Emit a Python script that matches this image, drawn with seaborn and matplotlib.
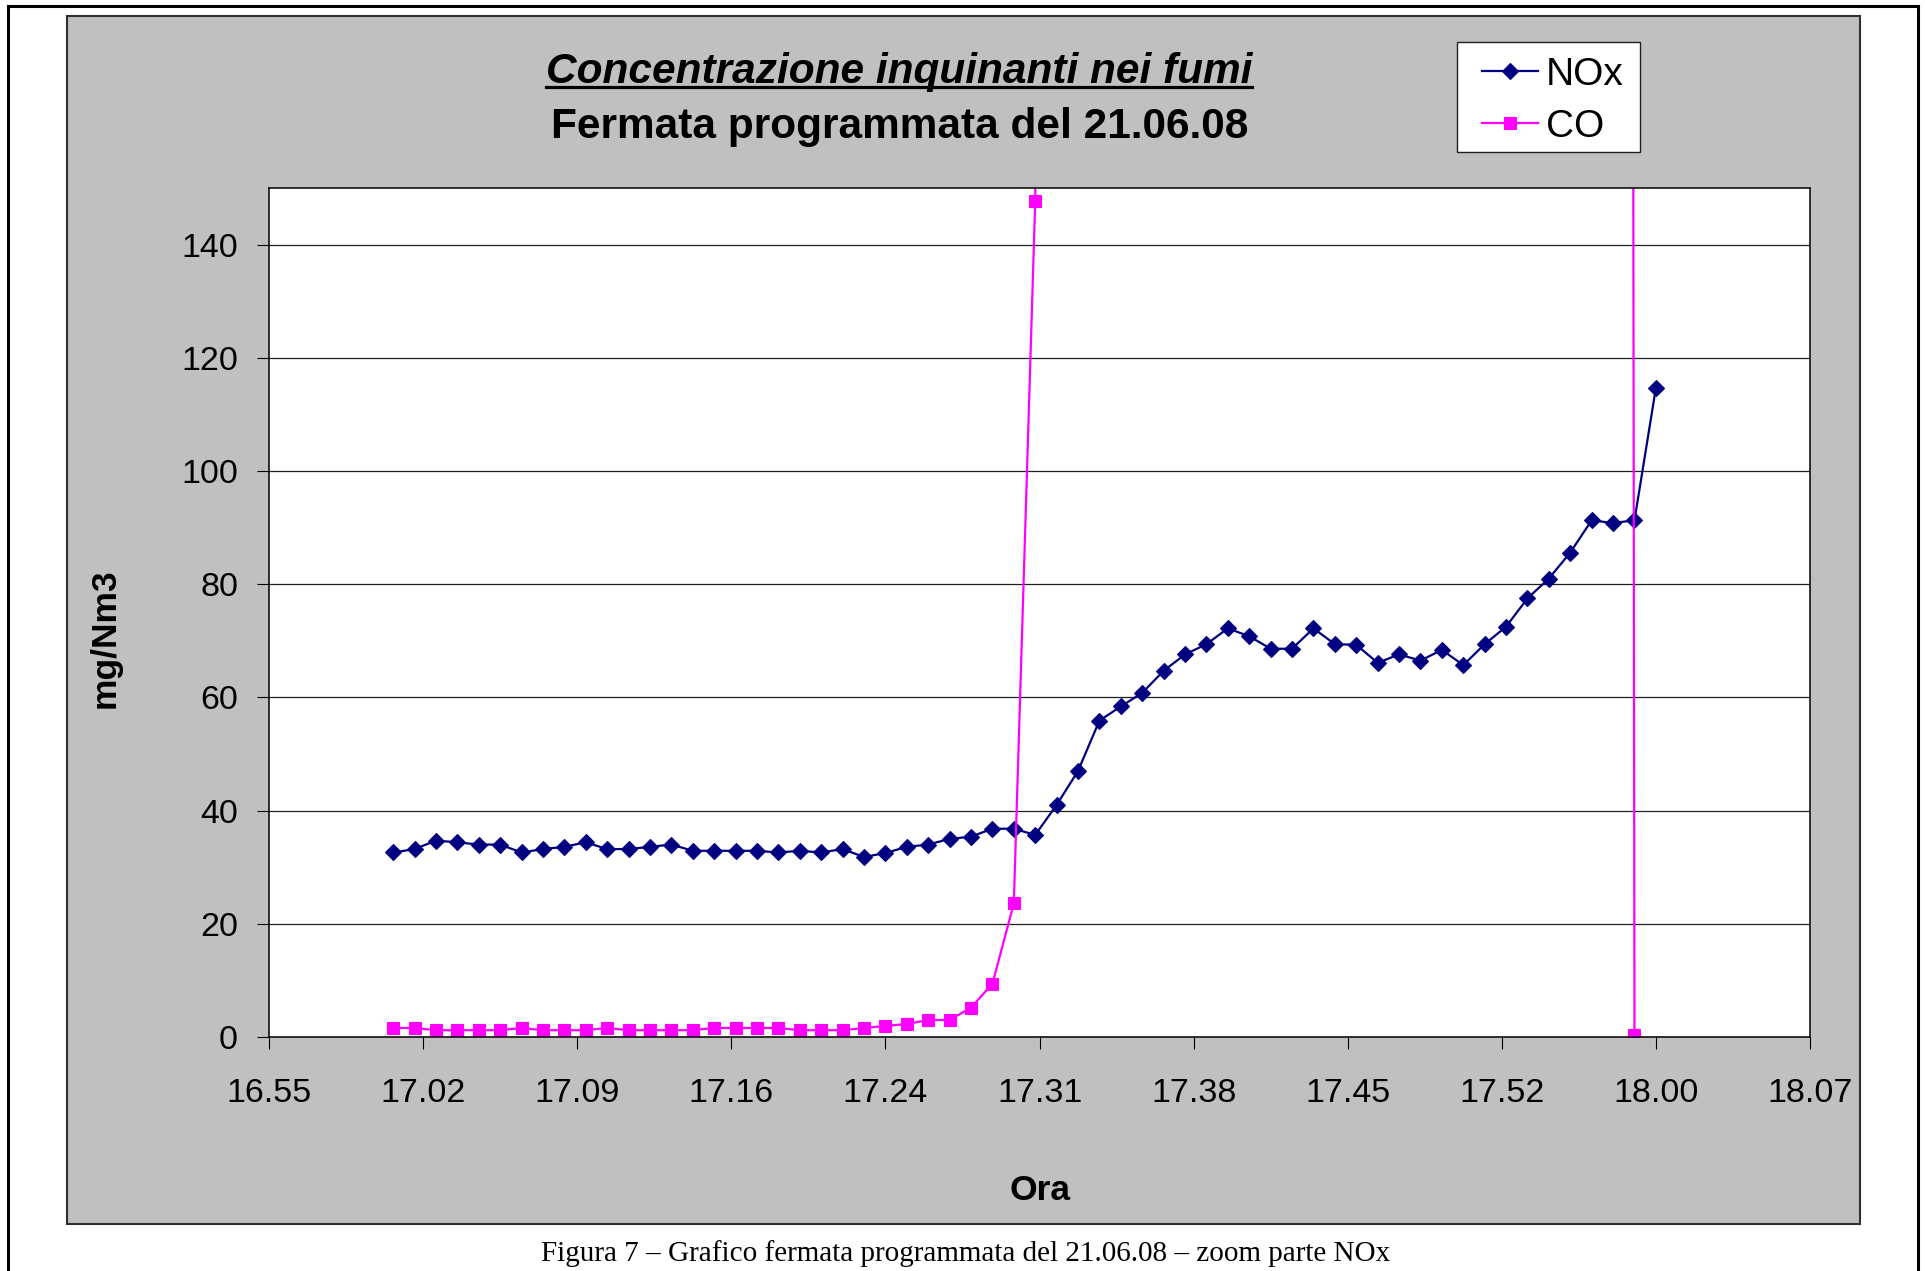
import numpy as np
import pandas as pd
import matplotlib
matplotlib.use("Agg")
import matplotlib.pyplot as plt
import seaborn as sns
from matplotlib.patches import Rectangle
from matplotlib.lines import Line2D

# ---------------- data ----------------
ore = ["17.01", "17.02", "17.03", "17.04", "17.05", "17.06", "17.07", "17.08", "17.09", "17.10",
       "17.11", "17.12", "17.13", "17.14", "17.15", "17.16", "17.17", "17.18", "17.19", "17.20",
       "17.21", "17.22", "17.23", "17.24", "17.25", "17.26", "17.27", "17.28", "17.29", "17.30",
       "17.31", "17.32", "17.33", "17.34", "17.35", "17.36", "17.37", "17.38", "17.39", "17.40",
       "17.41", "17.42", "17.43", "17.44", "17.45", "17.46", "17.47", "17.48", "17.49", "17.50",
       "17.51", "17.52", "17.53", "17.54", "17.55", "17.56", "17.57", "17.58", "17.59", "18.00"]

nox = [32.6, 33.2, 34.7, 34.4, 34.0, 34.0, 32.6, 33.2, 33.6, 34.4,
       33.2, 33.2, 33.6, 34.0, 32.9, 32.9, 32.9, 32.9, 32.6, 32.9,
       32.6, 33.2, 31.8, 32.5, 33.6, 34.0, 35.0, 35.4, 36.8, 36.8,
       35.7, 41.0, 47.0, 55.9, 58.4, 60.8, 64.7, 67.6, 69.4, 72.2,
       70.8, 68.6, 68.6, 72.2, 69.4, 69.3, 66.1, 67.6, 66.5, 68.4,
       65.7, 69.4, 72.5, 77.5, 81.0, 85.6, 91.3, 90.8, 91.3, 114.7]

# CO: values from 17.32 to 17.58 are far above the axis limit (off-chart, estimated)
co = [1.6, 1.6, 1.2, 1.2, 1.2, 1.2, 1.6, 1.2, 1.2, 1.2,
      1.6, 1.2, 1.2, 1.2, 1.2, 1.6, 1.6, 1.6, 1.6, 1.2,
      1.2, 1.2, 1.6, 1.95, 2.3, 3.0, 3.0, 5.2, 9.4, 23.6,
      147.7, 820, 1450, 1900, 2100, 2250, 2300, 2350, 2400, 2380,
      2420, 2450, 2400, 2460, 2500, 2480, 2510, 2530, 2500, 2550,
      2570, 2540, 2600, 2620, 2580, 2650, 2700, 2680, 0.3, np.nan]

x_tick_labels = ["16.55", "17.02", "17.09", "17.16", "17.24", "17.31",
                 "17.38", "17.45", "17.52", "18.00", "18.07"]
y_ticks = [0, 20, 40, 60, 80, 100, 120, 140]

titolo = "Concentrazione inquinanti nei fumi"
sottotitolo = "Fermata programmata del 21.06.08"
didascalia = "Figura 7 \u2013 Grafico fermata programmata del 21.06.08 \u2013 zoom parte NOx"

# minutes after 17:00
def to_min(s):
    h, m = s.split(".")
    return (int(h) - 17) * 60 + int(m)

df = pd.DataFrame({"min": [to_min(s) for s in ore], "NOx": nox, "CO": co})

# ---------------- figure ----------------
W, H = 1925, 1271
plt.rcParams["font.family"] = ["Liberation Sans", "DejaVu Sans"]
fig = plt.figure(figsize=(W / 100, H / 100), dpi=100)
fig.patch.set_facecolor("white")

# chart area (grey)
fig.patches.append(Rectangle((67 / W, 1 - 1224 / H), (1860 - 67) / W, (1224 - 16) / H,
                             transform=fig.transFigure, facecolor="#C0C0C0",
                             edgecolor="#303030", lw=1.5, zorder=-2))
# legend box
fig.patches.append(Rectangle((1457 / W, 1 - 152 / H), (1640 - 1457) / W, (152 - 42) / H,
                             transform=fig.transFigure, facecolor="white",
                             edgecolor="#202020", lw=1.0, zorder=-1))
# page border (left, top, right)
for xs, ys in [([8 / W, 8 / W], [0, 1 - 6 / H]),
               ([8 / W, 1918 / W], [1 - 6 / H, 1 - 6 / H]),
               ([1918 / W, 1918 / W], [0, 1 - 6 / H])]:
    fig.add_artist(Line2D(xs, ys, color="black", lw=2.2, transform=fig.transFigure))

ax = fig.add_axes([269 / W, 1 - 1037 / H, (1810 - 269) / W, (1037 - 188) / H])
ax.set_zorder(2)
ax.set_facecolor("white")

sns.lineplot(data=df, x="min", y="NOx", ax=ax, color="#000080", marker="D",
             markersize=8.0, markeredgecolor="#000080", markeredgewidth=0.8,
             linewidth=1.6, sort=False, estimator=None, label="NOx")
sns.lineplot(data=df, x="min", y="CO", ax=ax, color="#FF00FF", marker="s",
             markersize=8.3, markeredgecolor="#FF00FF", markeredgewidth=0.8,
             linewidth=1.6, sort=False, estimator=None, label="CO")

x_ticks = [-4.8 + 7.2 * i for i in range(len(x_tick_labels))]
ax.set_xlim(x_ticks[0], x_ticks[-1])
ax.set_ylim(0, 150)
ax.set_xticks(x_ticks)
ax.set_xticklabels(x_tick_labels)
ax.set_yticks(y_ticks)
ax.set_yticklabels([str(v) for v in y_ticks])
ax.set_xlabel("")
ax.set_ylabel("")
ax.tick_params(axis="x", direction="out", length=8.3, width=0.8, pad=21,
               labelsize=24.5, colors="black")
ax.tick_params(axis="y", direction="out", length=8.3, width=0.8, pad=14,
               labelsize=24.5, colors="black")
ax.yaxis.grid(True, color="#202020", lw=0.9)
ax.xaxis.grid(False)
ax.set_axisbelow(True)
for s in ax.spines.values():
    s.set_visible(True)
    s.set_color("black")
    s.set_linewidth(1.1)

# legend
leg = ax.legend(loc="upper left", bbox_to_anchor=(1482 / W, 1 - 57 / H),
                bbox_transform=fig.transFigure, frameon=False, borderpad=0,
                borderaxespad=0, handlelength=1.44, handletextpad=0.2,
                labelspacing=0.4, prop={"family": "Liberation Sans", "size": 28})

# titles
t1 = fig.text(899 / W, 1 - 82.5 / H, titolo, ha="center", va="baseline",
              fontsize=30.5, fontweight="bold", fontstyle="italic")
fig.text(900 / W, 1 - 138 / H, sottotitolo, ha="center", va="baseline",
         fontsize=30.5, fontweight="bold")
fig.canvas.draw()
bb = t1.get_window_extent()
fig.add_artist(Line2D([bb.x0 / W, bb.x1 / W], [1 - 86.5 / H, 1 - 86.5 / H],
                      color="black", lw=2.3, transform=fig.transFigure))

# axis labels
fig.text(105 / W, 1 - 638 / H, "mg/Nm3", rotation=90, ha="center", va="center",
         fontsize=25.5, fontweight="bold")
fig.text(1040 / W, 1 - 1191 / H, "Ora", ha="center", va="center",
         fontsize=25.5, fontweight="bold")

# caption
fig.text(966 / W, 1 - 1261 / H, didascalia, ha="center", va="baseline",
         fontsize=21, family=["Liberation Serif", "DejaVu Serif"])

fig.savefig("out.png", dpi=100, facecolor="white")
